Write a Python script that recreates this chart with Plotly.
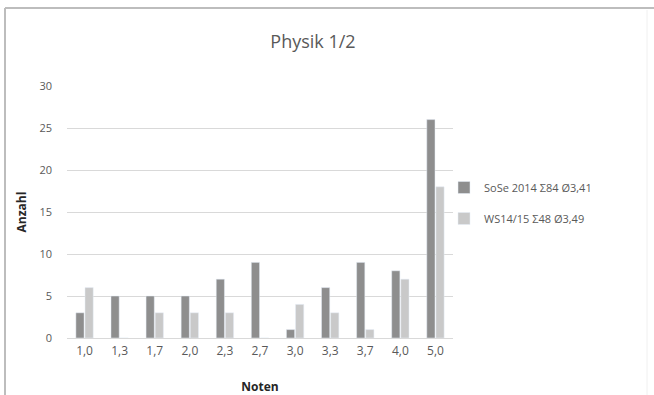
import plotly.graph_objects as go

noten = ["1,0", "1,3", "1,7", "2,0", "2,3", "2,7", "3,0", "3,3", "3,7", "4,0", "5,0"]
sose2014 = [3, 5, 5, 5, 7, 9, 1, 6, 9, 8, 26]
ws1415 = [6, 0, 3, 3, 3, 0, 4, 3, 1, 7, 18]
name_sose = "SoSe 2014 Σ84 Ø3,41"
name_ws = "WS14/15 Σ48 Ø3,49"
y_ticks = [0, 5, 10, 15, 20, 25, 30]

FONT = "Open Sans"
W, H = 654, 395
ML, MR, MT, MB = 67, 201, 86, 57

fig = go.Figure()
fig.add_trace(go.Bar(x=noten, y=sose2014, name=name_sose, marker_color="#8e8e8e",
                     legendgroup="a"))
fig.add_trace(go.Bar(x=noten, y=ws1415, name=name_ws, marker_color="#c9c9c9",
                     legendgroup="b"))

pw = W - ML - MR
ph = H - MT - MB
def px(x):
    return (x - ML) / pw
def py(y):
    return (H - MB - y) / ph

fig.update_layout(
    width=W, height=H,
    margin=dict(l=ML, r=MR, t=MT, b=MB),
    paper_bgcolor="white", plot_bgcolor="white",
    barmode="group", bargap=0.48, bargroupgap=0.1,
    font=dict(family=FONT, color="#595959"),
    title=dict(text="Physik 1/2", x=px(313), xref="paper", xanchor="center",
               y=1 - 42 / H, yanchor="middle",
               font=dict(size=18, family=FONT, color="#595959")),
    xaxis=dict(tickvals=noten, ticktext=noten, showgrid=False, showline=True,
               linecolor="#d9d9d9", linewidth=1, ticks="", automargin=False,
               tickfont=dict(size=12, color="#595959"), ticklabelstandoff=2,
               title=dict(text="<b>Noten</b>", font=dict(size=12, color="#262626"), standoff=25)),
    yaxis=dict(range=[0, 30], tickvals=y_ticks, showgrid=True, gridcolor="#d9d9d9",
               zeroline=False, showline=False, ticks="", automargin=False,
               tickfont=dict(size=11, color="#595959"), ticklabelstandoff=14,
               title=dict(text="<b>Anzahl</b>", font=dict(size=12, color="#262626"), standoff=10)),
    legend=dict(x=px(444), y=py(173), xanchor="left", yanchor="top",
                font=dict(size=11, color="#595959"), tracegroupgap=12,
                bgcolor="rgba(0,0,0,0)", itemwidth=30),
    showlegend=True,
)

# chart frame (left & top border lines)
fig.add_shape(type="line", xref="paper", yref="paper",
              x0=px(5), x1=px(5), y0=py(8), y1=py(H + 5),
              line=dict(color="#bdbdbd", width=2))
fig.add_shape(type="line", xref="paper", yref="paper",
              x0=px(5), x1=px(W + 5), y0=py(8), y1=py(8),
              line=dict(color="#bdbdbd", width=2))
fig.add_shape(type="line", xref="paper", yref="paper",
              x0=px(647), x1=px(647), y0=py(10), y1=py(H + 5),
              line=dict(color="#f0f0f0", width=1))

fig.write_html("out.html")
